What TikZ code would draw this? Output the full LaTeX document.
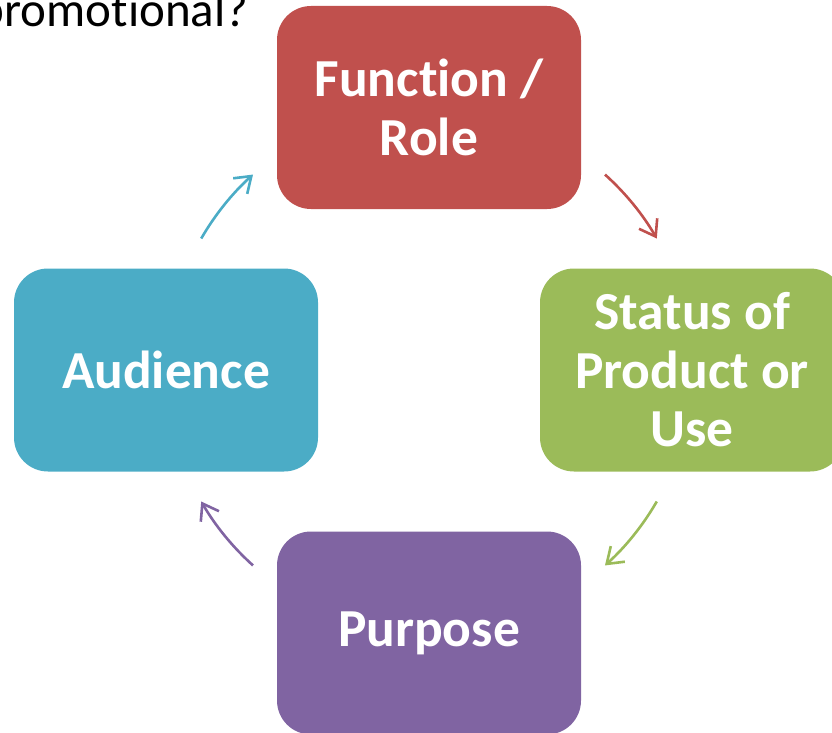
\documentclass[tikz,border=0pt]{standalone}
\usepackage{fontspec}
\setmainfont{Carlito}[Ligatures={NoCommon}]
\usetikzlibrary{arrows.meta,calc}
\definecolor{rolered}{HTML}{C0504D}
\definecolor{statgreen}{HTML}{9BBB59}
\definecolor{purpviolet}{HTML}{8064A2}
\definecolor{audblue}{HTML}{4BACC6}

\begin{document}
\begin{tikzpicture}[
  x=1pt, y=-1pt,
  box/.style={rectangle, rounded corners=34pt, minimum width=304pt, minimum height=203pt,
              inner sep=0pt, align=center, text=white,
              font=\bfseries\fontsize{53.5}{58.5}\selectfont},
  arr/.style={-{Straight Barb[length=15pt, width=21pt]}, line width=2.6pt}
]
\useasboundingbox (0,0) rectangle (832,733);
\node[anchor=base east, font=\fontsize{49}{58}\selectfont] (ask) at (252,27) {promotional?};
\node[box, fill=rolered] (role) at (429,107.5) {Function /\\Role};
\node[box, fill=statgreen] (status) at (692,370) {Status of\\Product or\\Use};
\node[box, fill=purpviolet] (purpose) at (429,633) {Purpose};
\node[box, fill=audblue] (audience) at (166,370) {Audience};
% cycle arrows sit on one circle round the hub
\coordinate (hub) at (429,370);
\foreach \s/\e/\c [count=\i] in {-48/-30/rolered, 30/48/statgreen, 132/150/purpviolet, -150/-132/audblue}{
  \coordinate (tail\i) at ($(hub)+(\s:263)$);
  \draw[arr, \c] (tail\i) arc[start angle=\s, end angle=\e, radius=263];
}
\end{tikzpicture}
\end{document}
